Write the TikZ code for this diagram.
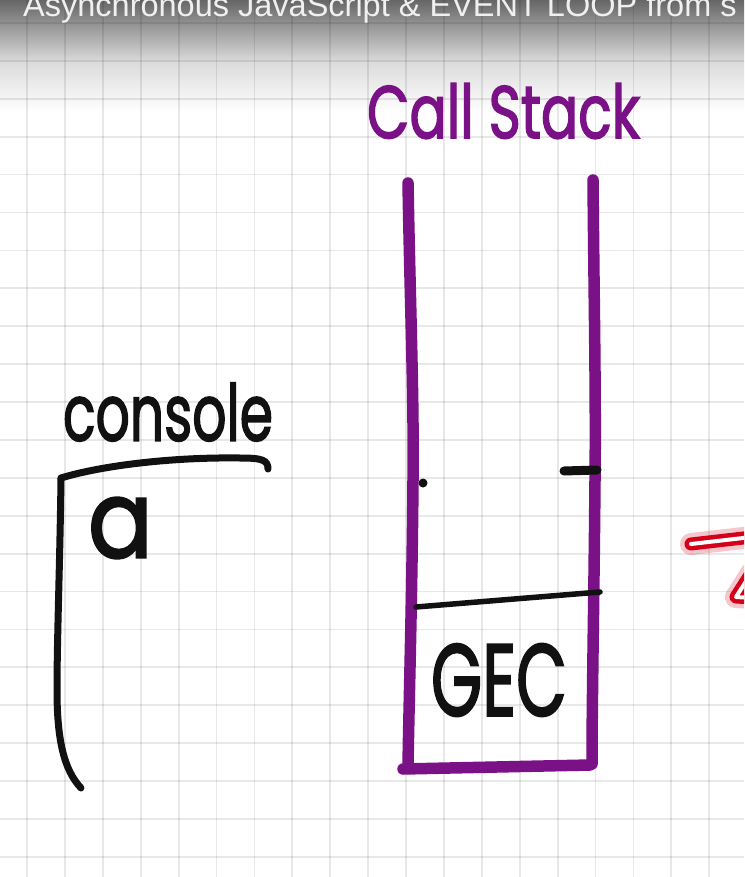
\documentclass[tikz,border=0pt]{standalone}
\usepackage{fontspec}
\setmainfont{Poppins}
\newfontfamily\handfont[FakeBold=2.2]{Poppins}
\newfontfamily\titlefont{Liberation Sans}
\definecolor{pen}{HTML}{7B1186}
\definecolor{ink}{HTML}{111111}
\definecolor{redpen}{HTML}{D4001A}
\begin{document}
\begin{tikzpicture}[x=1pt,y=-1pt,
  gridline/.style={draw=black,opacity=0.09,line width=1.8pt},
  wall/.style={draw=pen,line width=11.5pt,line cap=round,line join=round},
  inkline/.style={draw=ink,line cap=round,line join=round},
  hand/.style={inner sep=0pt,outer sep=0pt},
  glow/.style={draw=redpen,line width=22pt,opacity=0.22,line cap=round,line join=round},
  redstroke/.style={draw=redpen,line width=13pt,line cap=round,line join=round},
  core/.style={draw=white,line width=4pt,line cap=round,line join=round}]
\useasboundingbox (0,0) rectangle (744,877);
\clip (0,0) rectangle (744,877);
\fill[white] (0,0) rectangle (744,877);
% top fade of the video title bar
\shade[top color=black!60, bottom color=black!14] (0,0) rectangle (744,62);
\shade[top color=black!14, bottom color=white] (0,62) rectangle (744,112);
% grid
\foreach \k in {0,...,19} { \draw[gridline] ({27+37.9*\k},0) -- ({27+37.9*\k},877); }
\foreach \k in {0,...,22} { \draw[gridline] (0,{23+37.9*\k}) -- (744,{23+37.9*\k}); }
% title
\node[anchor=base west,inner sep=0pt,text=white!94!black,font=\titlefont\fontsize{32.5}{32.5}\selectfont] (title) at (23,17) {Asynchronous JavaScript \& EVENT LOOP from s};
% Call stack heading
\node[hand,text=pen] (cstitle) at (503.5,111) {\resizebox{273pt}{55pt}{\handfont\fontsize{60}{60}\selectfont Call Stack}};
% stack walls
\coordinate (lt) at (408,183); \coordinate (lb) at (408,766);
\coordinate (rt) at (593,180); \coordinate (rb) at (592,764);
\draw[wall] (lt) .. controls (410,300) and (414,400) .. (413,480) .. controls (412,600) and (409,700) .. (lb);
\draw[wall] (rt) .. controls (594,300) and (596,400) .. (595,480) .. controls (594,600) and (592,700) .. (rb);
\draw[wall] (403,769) -- (590,765);
% black marks
\fill[ink] (423,483) circle (4.5pt);
\coordinate (dashA) at (564,471); \coordinate (dashB) at (597,470);
\draw[inkline,line width=9pt] (dashA) -- (dashB);
\coordinate (sepA) at (416,607); \coordinate (sepB) at (600,592);
\draw[inkline,line width=5.5pt] (sepA) -- (sepB);
\node[hand,text=ink] (gec) at (499,680) {\resizebox{136pt}{72pt}{\handfont\fontsize{60}{60}\selectfont GEC}};
% console
\node[hand,text=ink] (contitle) at (168,412) {\resizebox{210pt}{58pt}{\handfont\fontsize{60}{60}\selectfont console}};
\coordinate (hook) at (268,469);
\coordinate (corner) at (61,478);
\coordinate (tail) at (81,788);
\draw[inkline,line width=7pt] (hook) .. controls (268,460) and (262,458) .. (240,458) .. controls (170,457) and (100,466) .. (corner);
\draw[inkline,line width=7pt] (corner) .. controls (60,560) and (57,640) .. (57,690) .. controls (57,740) and (64,770) .. (tail);
\node[hand,text=ink] (out) at (120.5,528) {\resizebox{65pt}{60pt}{\handfont\fontsize{60}{60}\selectfont a}};
% red annotation at the right edge
\coordinate (ra) at (691,544); \coordinate (rb2) at (752,537);
\coordinate (rc) at (752,572); \coordinate (rd) at (736,597); \coordinate (re) at (752,598);
\draw[glow] (ra) -- (rb2); \draw[glow] (rc) -- (rd) -- (re);
\draw[redstroke] (ra) -- (rb2); \draw[redstroke] (rc) -- (rd) -- (re);
\draw[core] (ra) -- (rb2); \draw[core] (rc) -- (rd) -- (re);
\end{tikzpicture}
\end{document}
